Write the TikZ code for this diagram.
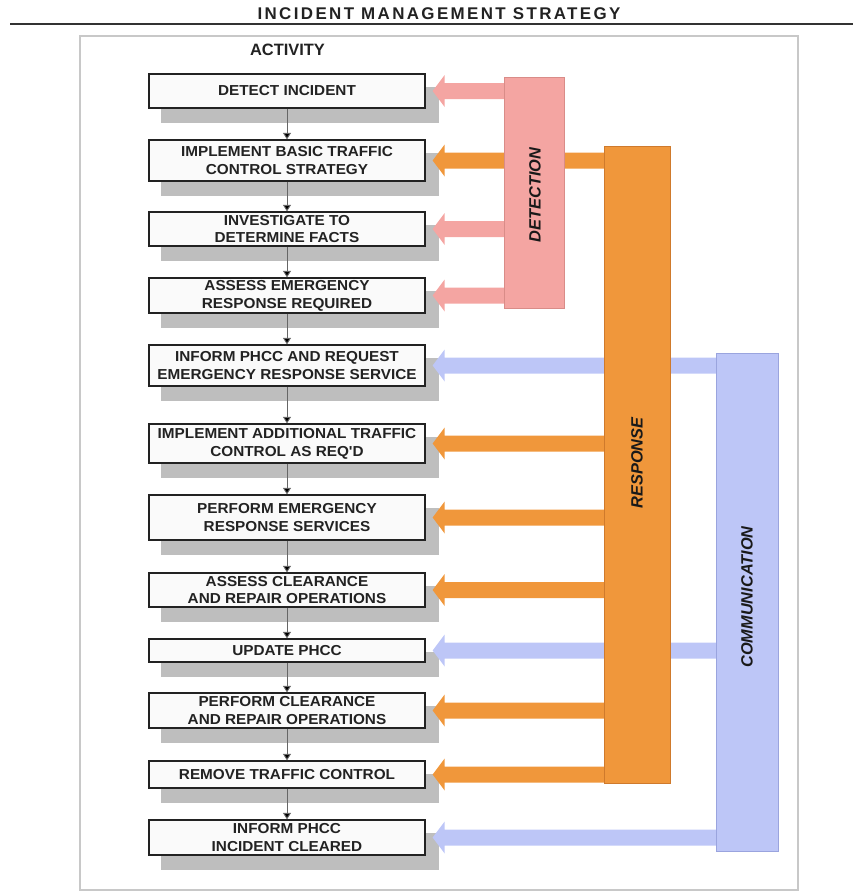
\documentclass[tikz,border=0pt]{standalone}
\usepackage{fontspec}
\setmainfont{Liberation Sans}
\newfontfamily\titlefont[LetterSpace=14]{Liberation Sans}
\newfontfamily\boxfont[FakeStretch=1.06]{Liberation Sans}
\usetikzlibrary{calc,arrows.meta,backgrounds}
\definecolor{pinkc}{HTML}{F4A5A2}
\definecolor{pinkd}{HTML}{D98C88}
\definecolor{orangec}{HTML}{F0973B}
\definecolor{oranged}{HTML}{CF7A2C}
\definecolor{bluec}{HTML}{BDC6F7}
\definecolor{blued}{HTML}{9AA4DE}
\definecolor{shadowc}{HTML}{BEBEBE}
\definecolor{framec}{HTML}{C8C8C8}
\definecolor{inkc}{HTML}{222222}
\tikzset{
  actbox/.style={draw=inkc, line width=1.3bp, fill=white!98!black, inner sep=0pt,
    minimum width=276bp, align=center, text=inkc,
    font=\boxfont\bfseries\fontsize{14.5}{18}\selectfont},
  conn/.style={draw=black!60, line width=0.9bp, -{Triangle[width=8bp,length=6.5bp,fill=black]}},
  barlabel/.style={rotate=90, font=\bfseries\itshape\fontsize{16.4}{18}\selectfont, text=black!90},
  pinkbar/.style={fill=pinkc, draw=pinkd, line width=0.8bp, inner sep=0pt},
  orangebar/.style={fill=orangec, draw=oranged, line width=0.8bp, inner sep=0pt},
  bluebar/.style={fill=bluec, draw=blued, line width=0.8bp, inner sep=0pt},
}
\newcommand\flowarrow[3]{%
  \fill[#1] ($(#2.east)+(7,0)$) -- ($(#2.east)+(19,-16)$) -- ($(#2.east)+(19,-8)$)
    -- ($(#2.east -| #3.west)+(1,-8)$) -- ($(#2.east -| #3.west)+(1,8)$)
    -- ($(#2.east)+(19,8)$) -- ($(#2.east)+(19,16)$) -- cycle;}
\newcommand\boxshadow[1]{%
  \fill[shadowc] ($(#1.south west)+(13,14)$) rectangle ($(#1.north east)+(13,14)$);}
\begin{document}
\begin{tikzpicture}[x=1bp,y=-1bp]
\useasboundingbox (0,0) rectangle (853,891);
% title
\node[font=\titlefont\bfseries\fontsize{17}{20}\selectfont, text=inkc] (title) at (439,14) {INCIDENT MANAGEMENT STRATEGY};
\draw[line width=2bp, draw=black!80] (10,24) -- (853,24);
% frame
\draw[framec, line width=1.5bp] (80,36) rectangle (798,890);
\node[font=\bfseries\fontsize{16.5}{18}\selectfont, text=inkc] (activity) at (287.5,50) {ACTIVITY};
% boxes
\node[actbox, minimum height=34bp] (b1) at (287,91) {DETECT INCIDENT};
\node[actbox, minimum height=41bp] (b2) at (287,160.5) {IMPLEMENT BASIC TRAFFIC\\CONTROL STRATEGY};
\node[actbox, minimum height=34bp] (b3) at (287,229) {INVESTIGATE TO\\DETERMINE FACTS};
\node[actbox, minimum height=35bp] (b4) at (287,295.5) {ASSESS EMERGENCY\\RESPONSE REQUIRED};
\node[actbox, minimum height=41bp] (b5) at (287,365.5) {INFORM PHCC AND REQUEST\\EMERGENCY RESPONSE SERVICE};
\node[actbox, minimum height=39bp] (b6) at (287,443.5) {IMPLEMENT ADDITIONAL TRAFFIC\\CONTROL AS REQ'D};
\node[actbox, minimum height=45bp] (b7) at (287,517.5) {PERFORM EMERGENCY\\RESPONSE SERVICES};
\node[actbox, minimum height=34bp] (b8) at (287,590) {ASSESS CLEARANCE\\AND REPAIR OPERATIONS};
\node[actbox, minimum height=23bp] (b9) at (287,650.5) {UPDATE PHCC};
\node[actbox, minimum height=35bp] (b10) at (287,710.5) {PERFORM CLEARANCE\\AND REPAIR OPERATIONS};
\node[actbox, minimum height=27bp] (b11) at (287,774.5) {REMOVE TRAFFIC CONTROL};
\node[actbox, minimum height=35bp] (b12) at (287,837.5) {INFORM PHCC\\INCIDENT CLEARED};
% shadows behind boxes
\begin{scope}[on background layer]
\foreach \i in {1,...,12} {\boxshadow{b\i}}
\end{scope}
% connectors
\foreach \i/\j in {1/2,2/3,3/4,4/5,5/6,6/7,7/8,8/9,9/10,10/11,11/12}
  \draw[conn] (b\i.south) -- (b\j.north);
% bar geometry (placeholders, filled later)
\path (747.5,602.5) node[inner sep=0pt, minimum width=61bp, minimum height=497bp] (comm) {};
\path (637.5,465) node[inner sep=0pt, minimum width=65bp, minimum height=636bp] (resp) {};
\path (534.5,193) node[inner sep=0pt, minimum width=59bp, minimum height=230bp] (det) {};
% communication
\flowarrow{bluec}{b5}{comm}
\flowarrow{bluec}{b9}{comm}
\flowarrow{bluec}{b12}{comm}
\draw[bluebar] (comm.north west) rectangle (comm.south east);
\node[barlabel] (commlabel) at (747,597) {COMMUNICATION};
% response
\flowarrow{orangec}{b2}{resp}
\flowarrow{orangec}{b6}{resp}
\flowarrow{orangec}{b7}{resp}
\flowarrow{orangec}{b8}{resp}
\flowarrow{orangec}{b10}{resp}
\flowarrow{orangec}{b11}{resp}
\draw[orangebar] (resp.north west) rectangle (resp.south east);
\node[barlabel] (resplabel) at (637,463) {RESPONSE};
% detection
\flowarrow{pinkc}{b1}{det}
\flowarrow{pinkc}{b3}{det}
\flowarrow{pinkc}{b4}{det}
\draw[pinkbar] (det.north west) rectangle (det.south east);
\node[barlabel] (detlabel) at (535,195) {DETECTION};
\end{tikzpicture}
\end{document}
